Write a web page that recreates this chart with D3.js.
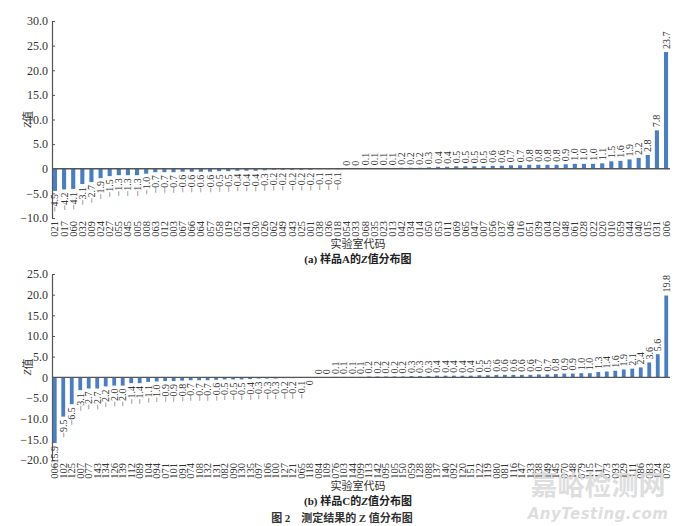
<!DOCTYPE html>
<html><head><meta charset="utf-8">
<script src="https://cdn.jsdelivr.net/npm/d3@7"></script>
<style>
body{margin:0;background:#fff;}
svg{display:block;}
</style></head>
<body>
<svg id="c" width="680" height="526"></svg>
<script>
// ---- Panel A data (样品A)
const labsA = ["021","017","060","032","009","024","027","055","045","005","008","063","012","003","067","066","064","057","058","019","052","041","030","026","062","049","043","025","001","038","036","018","054","033","068","035","023","013","042","034","014","050","053","011","069","065","047","007","056","037","046","016","051","039","004","002","048","061","028","022","020","010","059","044","040","015","031","006"];
const zA = [-4.5,-4.2,-4.1,-3.1,-2.7,-1.9,-1.5,-1.3,-1.3,-1.3,-1.0,-0.7,-0.7,-0.7,-0.6,-0.6,-0.6,-0.6,-0.5,-0.5,-0.4,-0.4,-0.4,-0.3,-0.2,-0.2,-0.2,-0.2,-0.2,-0.1,-0.1,-0.1,0,0,0.1,0.1,0.1,0.1,0.2,0.2,0.2,0.3,0.4,0.4,0.5,0.5,0.5,0.5,0.6,0.6,0.7,0.7,0.8,0.8,0.8,0.8,0.9,1.0,1.0,1.0,1.1,1.5,1.6,1.9,2.2,2.8,7.8,23.7];
const ticksA = [-10,-5,0,5,10,15,20,25,30];

// ---- Panel B data (样品C)
const labsB = ["006","102","125","007","077","143","134","126","139","112","089","104","094","071","101","091","074","108","132","131","082","090","130","135","097","106","100","127","121","065","118","084","109","076","103","144","099","113","142","095","105","150","059","128","088","137","140","092","120","151","122","119","080","081","116","147","133","138","149","145","070","148","079","115","117","073","093","129","111","086","083","124","078"];
const zB = [-15.9,-9.5,-6.5,-3.1,-2.7,-2.7,-2.2,-2.0,-2.0,-1.4,-1.4,-1.1,-1.0,-0.9,-0.9,-0.8,-0.7,-0.7,-0.7,-0.6,-0.5,-0.5,-0.5,-0.4,-0.3,-0.3,-0.3,-0.2,-0.2,-0.1,-0,0,0,0.1,0.1,0.1,0.1,0.2,0.2,0.2,0.2,0.2,0.3,0.3,0.3,0.4,0.4,0.4,0.4,0.4,0.5,0.5,0.6,0.6,0.6,0.6,0.6,0.7,0.7,0.8,0.9,0.9,1.0,1.0,1.3,1.4,1.6,1.9,2.1,2.4,3.6,5.6,19.8];
const ticksB = [-20,-15,-10,-5,0,5,10,15,20,25];

const svg = d3.select("#c");
const SERIF = "'Liberation Serif','DejaVu Serif',serif";
const CJK = "'Noto Sans CJK SC',sans-serif";
const BAR = "#4a7ebf";
const AX = "#555";

function fmtTick(v){ return v===0 ? "0" : d3.format(".1f")(v); }
function fmtVal(v){ return v===0 ? "0" : d3.format(".1f")(v); }

function panel(labs, vals, ticks, y0, y1, tag, sample){
  const x = d3.scaleBand().domain(labs).range([52, 669]).paddingInner(0.55).paddingOuter(0.1);
  const y = d3.scaleLinear().domain([ticks[0], ticks[ticks.length-1]]).range([y1, y0]);
  const g = svg.append("g");

  // y axis
  const ya = g.append("g").attr("transform","translate(52,0)")
    .call(d3.axisLeft(y).tickValues(ticks).tickFormat(fmtTick).tickSize(-3).tickPadding(4));
  ya.select(".domain").attr("stroke",AX).attr("stroke-width",1.2);
  ya.selectAll(".tick line").attr("stroke",AX);
  ya.selectAll(".tick text").attr("font-family",SERIF).attr("font-size",12).attr("fill","#333")
    .attr("x",-4);

  // bars
  g.selectAll("rect.b").data(vals).enter().append("rect")
    .attr("x",(d,i)=>x(labs[i]))
    .attr("width",x.bandwidth())
    .attr("y",d=>y(Math.max(0,d)))
    .attr("height",d=>Math.abs(y(d)-y(0)))
    .attr("fill",BAR);

  // zero line
  g.append("line").attr("x1",52).attr("x2",670).attr("y1",y(0)).attr("y2",y(0))
    .attr("stroke",AX).attr("stroke-width",1.4);

  // value labels
  g.selectAll("text.v").data(vals).enter().append("text")
    .attr("font-family",SERIF).attr("font-size",10).attr("fill","#333")
    .attr("dominant-baseline","central")
    .attr("text-anchor",d=> (1/d<0) ? "end" : "start")
    .attr("transform",(d,i)=>{
      const cx = x(labs[i]) + x.bandwidth()/2;
      const cy = (1/d<0) ? y(d)+3 : y(d)-3;
      return `translate(${cx},${cy}) rotate(-90)`;
    })
    .text(d=>fmtVal(d));

  // x tick labels
  g.selectAll("text.xl").data(labs).enter().append("text")
    .attr("font-family",SERIF).attr("font-size",10.5).attr("fill","#333")
    .attr("dominant-baseline","central").attr("text-anchor","end")
    .attr("transform",d=>`translate(${x(d)+x.bandwidth()/2},${y1+3}) rotate(-90)`)
    .text(d=>d);

  // y axis label
  const yl = g.append("text").attr("transform",`translate(27,${(y0+y1)/2}) rotate(-90)`)
    .attr("text-anchor","middle").attr("dominant-baseline","central").attr("font-size",11).attr("fill","#333");
  yl.append("tspan").attr("font-family",SERIF).attr("font-style","italic").text("Z");
  yl.append("tspan").attr("font-family",CJK).text("值");

  // x axis title
  g.append("text").attr("x",358).attr("y",y1+30).attr("text-anchor","middle")
    .attr("font-family",CJK).attr("font-size",11).attr("fill","#333").text("实验室代码");

  // panel caption
  const cap = g.append("text").attr("x",358).attr("y",y1+45).attr("text-anchor","middle")
    .attr("font-size",11).attr("font-weight","bold").attr("fill","#222");
  cap.append("tspan").attr("font-family",SERIF).text(`(${tag}) `);
  cap.append("tspan").attr("font-family",CJK).text("样品");
  cap.append("tspan").attr("font-family",SERIF).text(sample);
  cap.append("tspan").attr("font-family",CJK).text("的");
  cap.append("tspan").attr("font-family",SERIF).attr("font-style","italic").text("Z");
  cap.append("tspan").attr("font-family",CJK).text("值分布图");
}

panel(labsA, zA, ticksA, 21, 218, "a", "A");
panel(labsB, zB, ticksB, 274, 460, "b", "C");

// figure caption
const fc = svg.append("text").attr("x",342).attr("y",522).attr("text-anchor","middle")
  .attr("font-size",11).attr("font-weight","bold").attr("fill","#333");
fc.append("tspan").attr("font-family",CJK).text("图 ");
fc.append("tspan").attr("font-family",SERIF).text("2");
fc.append("tspan").attr("font-family",CJK).text("　测定结果的 ");
fc.append("tspan").attr("font-family",SERIF).text("Z");
fc.append("tspan").attr("font-family",CJK).text(" 值分布图");

// watermark
svg.append("text").attr("x",598).attr("y",495).attr("text-anchor","middle")
  .attr("font-family",CJK).attr("font-size",27).attr("font-weight","bold").attr("fill","#d9d9d9").attr("opacity",0.85)
  .text("嘉峪检测网");
svg.append("text").attr("x",598).attr("y",519).attr("text-anchor","middle")
  .attr("font-family","'DejaVu Sans',sans-serif").attr("font-size",15).attr("font-style","italic").attr("font-weight","bold")
  .attr("fill","#d9d9d9").attr("opacity",0.85).attr("letter-spacing",0.5)
  .text("AnyTesting.com");
</script>
</body></html>
